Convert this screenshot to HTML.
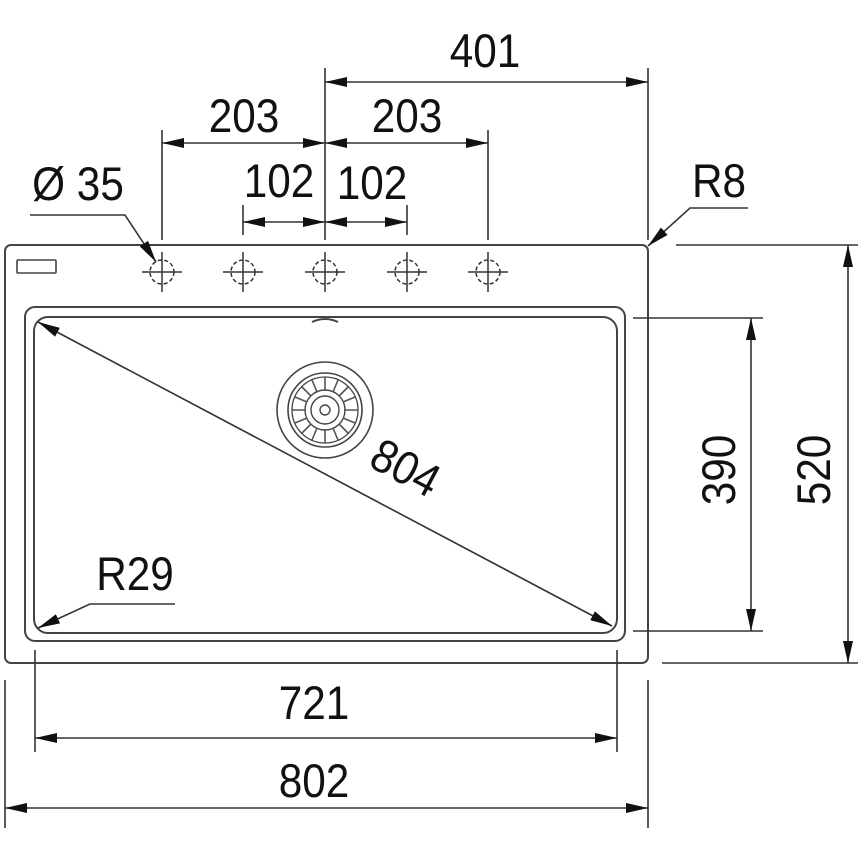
<!DOCTYPE html>
<html><head><meta charset="utf-8"><style>
html,body{margin:0;padding:0;background:#fff;}
svg{display:block}
text{font-family:"Liberation Sans",sans-serif;fill:#111;}
</style></head><body>
<svg width="860" height="860" viewBox="0 0 860 860" xmlns="http://www.w3.org/2000/svg">
<defs>
<marker id="a" viewBox="0 0 22 10" refX="22" refY="5" markerWidth="22" markerHeight="10" markerUnits="userSpaceOnUse" orient="auto-start-reverse">
<path d="M0,0 L22,5 L0,10 Z" fill="#111"/></marker>
</defs>
<g fill="none" stroke="#444" stroke-width="2">
<rect x="5" y="245" width="643" height="418" rx="6"/>
<rect x="17" y="260" width="39" height="13" rx="1" stroke-width="1.6"/>
<rect x="25" y="307" width="600" height="334" rx="10"/>
<rect x="34" y="317" width="583" height="316" rx="14"/>
<path d="M312,322 Q325,316 338,322" stroke-width="2"/>
<circle cx="325" cy="410" r="48" stroke-width="1.6"/>
<circle cx="325" cy="410" r="37" stroke-width="1.6"/>
<circle cx="325" cy="410" r="33" stroke-width="1.3"/>
<circle cx="325" cy="410" r="20" stroke-width="1.4"/>
<circle cx="325" cy="410" r="14" stroke-width="1.4"/>
<circle cx="325" cy="410" r="5" stroke-width="1.4"/>
<g stroke-width="1.6" stroke="#555">
<path d="M325,377 V391 M325,429 V443 M292,410 H306 M344,410 H358 M302,387 L311,396 M339,424 L348,433 M348,387 L339,396 M311,424 L302,433 M312,380 L317,392 M333,428 L338,440 M338,380 L333,392 M317,428 L312,440 M295,397 L307,402 M343,418 L355,423 M355,397 L343,402 M307,418 L295,423"/>
</g>
</g>
<g stroke="#333" stroke-width="1.5" fill="none">
<g id="t"><circle cx="162" cy="272" r="12" stroke-dasharray="4 2.5"/><path d="M142,272 H182 M162,252 V292"/></g>
<use href="#t" x="81"/><use href="#t" x="163"/><use href="#t" x="245"/><use href="#t" x="326"/>
</g>
<g stroke="#333" stroke-width="1.6" fill="none">
<path d="M162,130 V240 M325,68 V240 M488,130 V240 M648,68 V240 M243,205 V235 M407,205 V235"/>
<path d="M676,245 H858 M662,663 H858 M633,318 H763 M633,631 H763"/>
<path d="M35,650 V752 M617,650 V752 M5,680 V828 M648,680 V828"/>
<path d="M325,82 H648" marker-start="url(#a)" marker-end="url(#a)"/>
<path d="M162,143 H325" marker-start="url(#a)" marker-end="url(#a)"/>
<path d="M325,143 H488" marker-start="url(#a)" marker-end="url(#a)"/>
<path d="M243,222 H325" marker-start="url(#a)" marker-end="url(#a)"/>
<path d="M325,222 H407" marker-start="url(#a)" marker-end="url(#a)"/>
<path d="M848,245 V663" marker-start="url(#a)" marker-end="url(#a)"/>
<path d="M751,318 V631" marker-start="url(#a)" marker-end="url(#a)"/>
<path d="M35,738 H617" marker-start="url(#a)" marker-end="url(#a)"/>
<path d="M5,808 H648" marker-start="url(#a)" marker-end="url(#a)"/>
<path d="M38,322 L612,626" marker-start="url(#a)" marker-end="url(#a)"/>
<path d="M30,215 H125 L156,262" marker-end="url(#a)"/>
<path d="M748,208 H690 L648,246" marker-end="url(#a)"/>
<path d="M175,604 H90 L38,628" marker-end="url(#a)"/>
</g>
<g font-size="47" text-anchor="middle">
<text transform="translate(485,67) scale(0.9,1)">401</text>
<text transform="translate(244,132) scale(0.9,1)">203</text>
<text transform="translate(407,132) scale(0.9,1)">203</text>
<text transform="translate(279,197) scale(0.9,1)">102</text>
<text transform="translate(372,199) scale(0.9,1)">102</text>
<text transform="translate(78,200) scale(0.9,1)">Ø 35</text>
<text transform="translate(719,197) scale(0.9,1)">R8</text>
<text transform="translate(135,590) scale(0.9,1)">R29</text>
<text transform="translate(314,719) scale(0.9,1)">721</text>
<text transform="translate(314,797) scale(0.9,1)">802</text>
<text transform="translate(398,482) rotate(28) scale(0.9,1)">804</text>
<text transform="translate(735,470) rotate(-90) scale(0.9,1)">390</text>
<text transform="translate(830,470) rotate(-90) scale(0.9,1)">520</text>
</g>
</svg>
</body></html>
